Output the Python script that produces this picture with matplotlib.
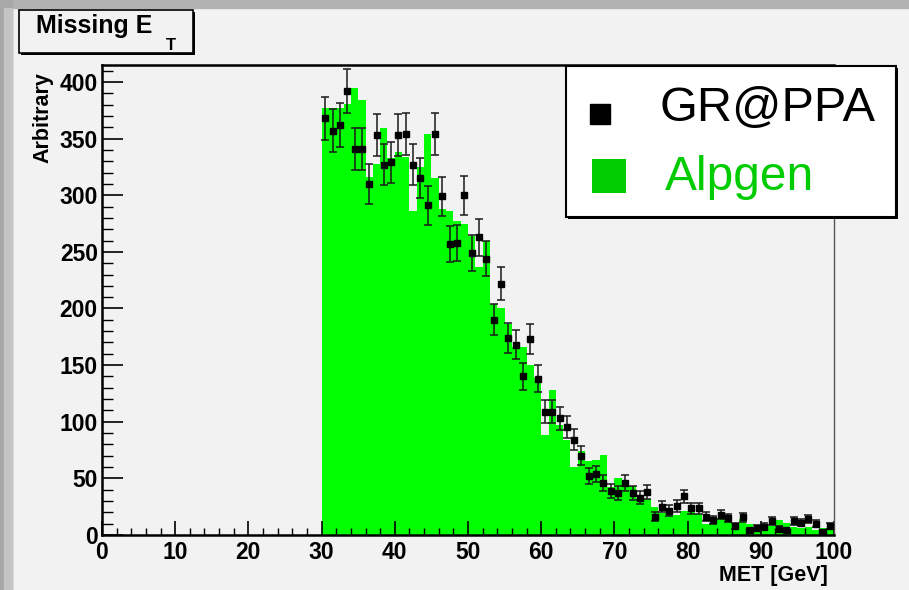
import numpy as np
import matplotlib
matplotlib.use("Agg")
import matplotlib.pyplot as plt
from matplotlib.patches import Rectangle
from matplotlib.lines import Line2D
from matplotlib.ticker import MultipleLocator

plt.rcParams['font.family'] = ['Liberation Sans', 'DejaVu Sans']

# MET bins, 1 GeV wide, from 30 to 100 GeV
bin_edges = np.arange(30, 101, 1)

# Alpgen histogram (green)
alpgen = [377, 377, 377, 381, 395, 384, 316, 328, 359, 333,
          338, 334, 286, 325, 354, 315, 288, 286, 277, 275,
          264, 237, 260, 204, 200, 186, 166, 166, 150, 139,
          88, 128, 97, 84, 60, 74, 65, 66, 71, 42,
          50, 46, 43, 33, 32, 25, 19, 18.5, 18, 21,
          20, 18.5, 10, 13, 15, 14, 11, 14, 10, 7,
          9, 8, 13, 11, 7, 6, 7, 4.5, 6, 8]

# GR@PPA points (black squares, sqrt(N) errors)
grppa = [368, 357, 362, 392, 341, 341, 310, 353, 327, 329,
         353, 354, 327, 315, 291, 354, 299, 257, 258, 300,
         249, 263, 244, 190, 222, 174, 168, 140, 173, 138,
         109, 109, 103, 95, 84, 70, 52, 54, 46, 39,
         37, 46, 37, 33, 38, 16, 25, 21.5, 25.5, 34,
         23.5, 23.5, 16, 13, 18, 15, 8, 15.5, 4.5, 6,
         7.5, 12.5, 5.5, 4.5, 12.5, 11, 14, 10, 3, 8]

W, H = 909, 590
canvas_col = '#f2f2f2'


def fx(x):
    return x / W


def fy(y):
    return 1 - y / H


fig = plt.figure(figsize=(W / 100, H / 100), dpi=100, facecolor=canvas_col)

# grey window border (top and left)
fig.patches.append(Rectangle((0, fy(8)), 1, 8 / H, transform=fig.transFigure,
                             color='#b2b2b2', zorder=0))
fig.patches.append(Rectangle((0, 0), 12 / W, 1, transform=fig.transFigure,
                             color='#a8a8a8', zorder=0))
fig.patches.append(Rectangle((4 / W, 0), 8 / W, fy(8), transform=fig.transFigure,
                             color='#c4c4c4', zorder=0))

ax = fig.add_axes([fx(102), fy(535), (834 - 102) / W, (535 - 65) / H])
ax.set_facecolor(canvas_col)

ax.stairs(alpgen, bin_edges, fill=True, color='#00ff00', linewidth=0, zorder=1)

centers = bin_edges[:-1] + 0.5
g = np.array(grppa, dtype=float)
ax.errorbar(centers, g, yerr=np.sqrt(g), fmt='s', color='black', ms=4.6,
            ecolor='#1a1a1a', elinewidth=1.1, capsize=3.2, capthick=1.1, zorder=3)

ax.set_xlim(0, 100)
ax.set_ylim(0, 415)

ax.xaxis.set_major_locator(MultipleLocator(10))
ax.xaxis.set_minor_locator(MultipleLocator(2))
ax.yaxis.set_major_locator(MultipleLocator(50))
ax.yaxis.set_minor_locator(MultipleLocator(10))

ax.tick_params(axis='x', which='major', direction='in', length=10, width=1.2,
               labelsize=16.5, pad=4)
ax.tick_params(axis='x', which='minor', direction='in', length=5, width=1.0)
ax.tick_params(axis='y', which='major', direction='in', length=15, width=1.2,
               labelsize=16.5, pad=3)
ax.tick_params(axis='y', which='minor', direction='in', length=8, width=1.0)
for lab in ax.get_xticklabels() + ax.get_yticklabels():
    lab.set_fontweight('bold')

for side in ['left', 'bottom', 'top']:
    ax.spines[side].set_linewidth(1.8)
    ax.spines[side].set_color('black')
ax.spines['right'].set_linewidth(1.0)
ax.spines['right'].set_color('#555555')

# axis titles
fig.text(fx(828), fy(575), 'MET [GeV]', ha='right', va='center',
         fontsize=15.5, fontweight='bold')
fig.text(fx(43), fy(72), 'Arbitrary', ha='center', va='top', rotation=90,
         fontsize=15.5, fontweight='bold')

# title box with shadow
fig.patches.append(Rectangle((fx(21), fy(55)), (193 - 19) / W, (53 - 10) / H,
                             transform=fig.transFigure, facecolor='black',
                             edgecolor='none', zorder=4))
fig.patches.append(Rectangle((fx(19), fy(53)), (193 - 19) / W, (53 - 10) / H,
                             transform=fig.transFigure, facecolor=canvas_col,
                             edgecolor='black', linewidth=1.2, zorder=5))
fig.text(fx(36), fy(33), 'Missing E', ha='left', va='baseline',
         fontsize=18, fontweight='bold', zorder=6)
fig.text(fx(166), fy(50), 'T', ha='left', va='baseline',
         fontsize=12, fontweight='bold', zorder=6)

# legend box with shadow
fig.patches.append(Rectangle((fx(568), fy(219)), (896 - 566) / W, (217 - 66) / H,
                             transform=fig.transFigure, facecolor='black',
                             edgecolor='none', zorder=4))
fig.patches.append(Rectangle((fx(566), fy(217)), (896 - 566) / W, (217 - 66) / H,
                             transform=fig.transFigure, facecolor='white',
                             edgecolor='black', linewidth=1.5, zorder=5))
fig.lines.append(Line2D([fx(600)], [fy(114)], marker='s', ms=14.5, color='black',
                        linestyle='none', transform=fig.transFigure, zorder=6))
fig.patches.append(Rectangle((fx(592), fy(193)), 34 / W, 34 / H,
                             transform=fig.transFigure, facecolor='#00cc00',
                             edgecolor='none', zorder=6))
fig.text(fx(659), fy(108), 'GR@PPA', ha='left', va='center', fontsize=35,
         color='black', zorder=7)
fig.text(fx(665), fy(177), 'Alpgen', ha='left', va='center', fontsize=34.5,
         color='#00cc00', zorder=7)

fig.savefig('out.png', dpi=100, facecolor=fig.get_facecolor())
